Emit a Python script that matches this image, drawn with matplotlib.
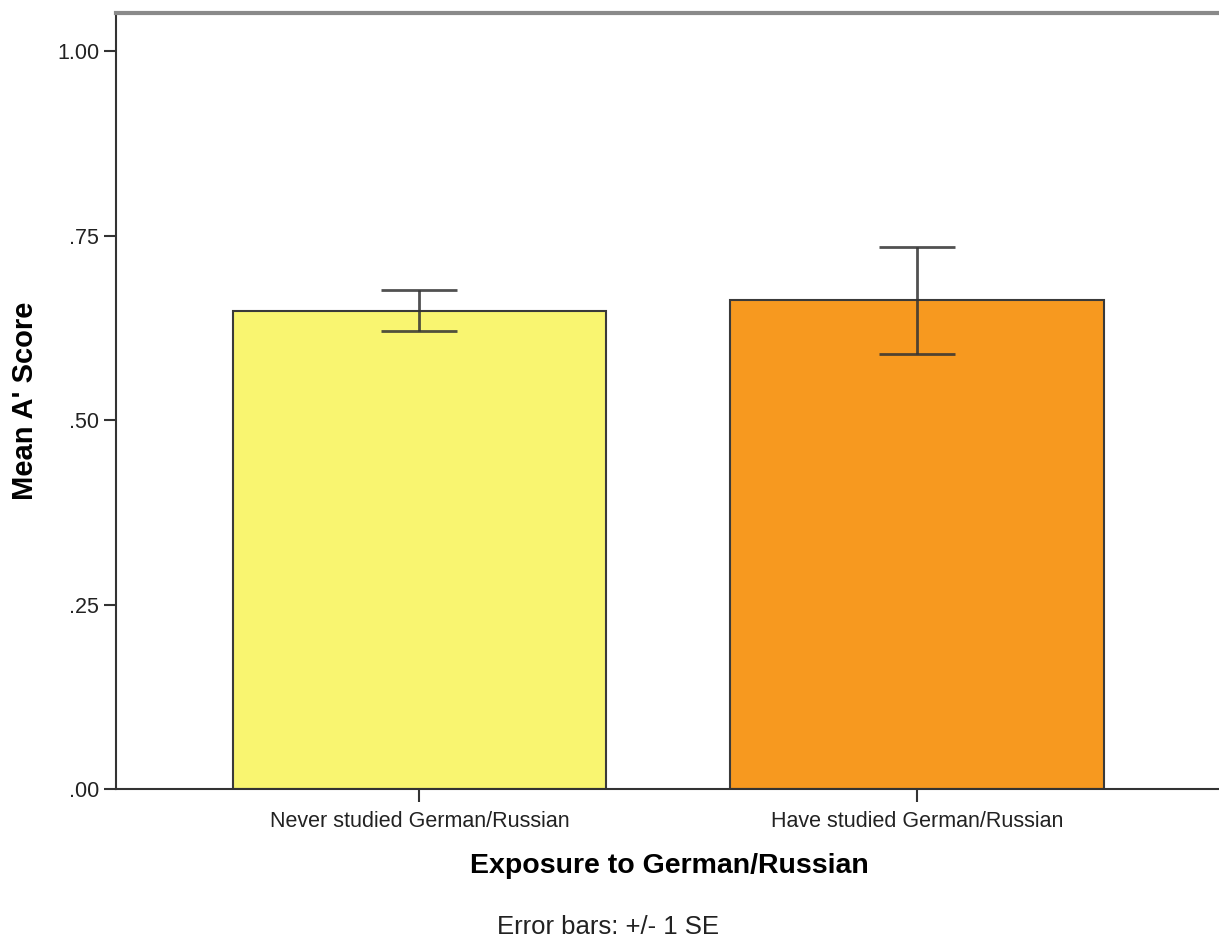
import matplotlib
matplotlib.use("Agg")
import matplotlib.pyplot as plt

categories = ["Never studied German/Russian", "Have studied German/Russian"]
means = [0.648, 0.662]
se = [0.028, 0.073]
colors = ["#F9F570", "#F7991F"]
ytick_vals = [0.0, 0.25, 0.50, 0.75, 1.00]
ytick_labels = [".00", ".25", ".50", ".75", "1.00"]

plt.rcParams['font.family'] = ['Liberation Sans', 'DejaVu Sans']

fig = plt.figure(figsize=(12.19, 9.38), dpi=100)
ax = fig.add_axes([116/1219, 1-789/938, 1-116/1219, (789-13)/938])

x = list(range(len(categories)))
ax.bar(x, means, width=0.75, color=colors, edgecolor="#3a3a3a", linewidth=1.5, zorder=2)
ax.errorbar(x, means, yerr=se, fmt='none', ecolor="#333333", alpha=0.85,
            elinewidth=2, capsize=27.5, capthick=2, zorder=3)

ax.set_xlim(-0.61, 1.607)
ax.set_ylim(0, 1.0515)
ax.set_yticks(ytick_vals)
ax.set_yticklabels(ytick_labels, fontsize=15.5, color="#222222")
ax.set_xticks(x)
ax.set_xticklabels(categories, fontsize=15.5, color="#222222")
ax.tick_params(axis='both', direction='out', length=9, width=1.5, color="#333333")
ax.tick_params(axis='x', pad=7)
ax.tick_params(axis='y', pad=3)

for s in ['left', 'bottom']:
    ax.spines[s].set_color("#333333")
    ax.spines[s].set_linewidth(1.5)
ax.spines['top'].set_color("#8a8a8a")
ax.spines['top'].set_linewidth(3)
ax.spines['right'].set_visible(False)

ax.set_ylabel("Mean A' Score", fontsize=21, fontweight='bold')
ax.yaxis.set_label_coords((25-116)/1103, 0.5)
ax.set_xlabel("Exposure to German/Russian", fontsize=20.5, fontweight='bold')
ax.xaxis.set_label_coords((669.5-116)/1103, (789-866)/776)
ax.xaxis.label.set_va('center')
ax.yaxis.label.set_va('center')

fig.text(608/1219, 1-927/938, "Error bars: +/- 1 SE", fontsize=18.5, ha='center', va='center', color="#222222")

fig.savefig("out.png", dpi=100, facecolor='white')
